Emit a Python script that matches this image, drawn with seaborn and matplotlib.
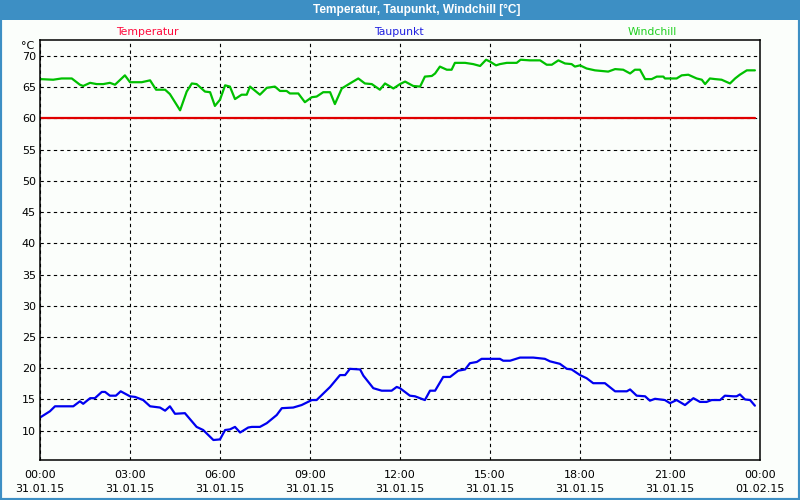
import pandas as pd
import seaborn as sns
import matplotlib.pyplot as plt
from matplotlib.patches import Rectangle

# hours after 31.01.15 00:00
temp_hours = [0, 23.83]
temp_vals = [60, 60]

dew_hours = [0, 0.33, 0.5, 1.11, 1.33, 1.44, 1.67, 1.83, 2.06, 2.17, 2.33, 2.53, 2.69, 3.0,
             3.17, 3.44, 3.67, 4.0, 4.17, 4.33, 4.5, 4.83, 5.22, 5.44, 5.78, 6.0, 6.17, 6.33,
             6.5, 6.67, 6.94, 7.06, 7.33, 7.56, 7.89, 8.06, 8.44, 8.72, 9.06, 9.22, 9.67, 10.0,
             10.17, 10.33, 10.67, 10.78, 11.11, 11.39, 11.72, 11.89, 12.0, 12.33, 12.5, 12.83,
             13.0, 13.17, 13.44, 13.67, 13.94, 14.17, 14.33, 14.56, 14.72, 15.33, 15.44, 15.67,
             16.0, 16.44, 16.83, 17.0, 17.33, 17.56, 17.72, 18.0, 18.22, 18.44, 18.83, 19.17,
             19.56, 19.67, 19.89, 20.17, 20.33, 20.5, 20.83, 21.0, 21.22, 21.5, 21.78, 22.0,
             22.22, 22.39, 22.67, 22.83, 23.11, 23.22, 23.33, 23.5, 23.67, 23.83]
dew_vals = [12.1, 13.1, 13.9, 13.9, 14.7, 14.3, 15.2, 15.2, 16.2, 16.2, 15.6, 15.6, 16.3, 15.5,
            15.4, 14.9, 13.9, 13.7, 13.2, 13.9, 12.7, 12.8, 10.6, 10.1, 8.5, 8.6, 10.1, 10.2,
            10.6, 9.7, 10.5, 10.6, 10.6, 11.2, 12.5, 13.6, 13.7, 14.1, 14.9, 14.9, 17.0, 18.9,
            18.9, 19.9, 19.8, 18.8, 16.8, 16.4, 16.4, 17.0, 16.8, 15.6, 15.5, 14.9,
            16.4, 16.4, 18.6, 18.6, 19.6, 19.8, 20.8, 21.0, 21.5, 21.5, 21.2, 21.2,
            21.7, 21.7, 21.5, 21.1, 20.7, 19.9, 19.8, 18.9, 18.4, 17.6, 17.6, 16.3,
            16.3, 16.6, 15.6, 15.5, 14.8, 15.1, 14.9, 14.4, 14.9, 14.1, 15.2, 14.6,
            14.6, 14.9, 14.9, 15.6, 15.5, 15.5, 15.8, 15.0, 14.9, 14.0]

chill_hours = [0, 0.44, 0.72, 1.06, 1.33, 1.44, 1.67, 1.89, 2.11, 2.33, 2.5, 2.83, 3.0, 3.39,
               3.67, 3.87, 4.17, 4.33, 4.67, 4.89, 5.06, 5.22, 5.5, 5.67, 5.83, 6.0, 6.17, 6.33,
               6.5, 6.72, 6.89, 7.0, 7.33, 7.56, 7.83, 8.0, 8.22, 8.33, 8.61, 8.83, 9.06, 9.22,
               9.44, 9.67, 9.83, 10.06, 10.33, 10.61, 10.83, 11.06, 11.33, 11.5, 11.78, 12.0,
               12.17, 12.44, 12.67, 12.83, 13.06, 13.17, 13.33, 13.56, 13.72, 13.83, 14.17, 14.44,
               14.67, 14.87, 15.0, 15.2, 15.33, 15.56, 15.89, 16.02, 16.33, 16.67, 16.89, 17.06,
               17.28, 17.5, 17.72, 17.83, 18.0, 18.22, 18.5, 18.94, 19.17, 19.44, 19.67, 19.83,
               20.0, 20.17, 20.39, 20.56, 20.78, 20.83, 21.22, 21.39, 21.61, 21.89, 22.06, 22.17,
               22.33, 22.5, 22.72, 23.0, 23.17, 23.33, 23.56, 23.83]
chill_vals = [66.3, 66.2, 66.4, 66.4, 65.4, 65.2, 65.7, 65.5, 65.5, 65.7, 65.4, 66.9, 65.8, 65.8,
              66.1, 64.6, 64.6, 63.9, 61.3, 64.3, 65.6, 65.5, 64.3, 64.2, 62.0, 63.0, 65.3, 65.1,
              63.1, 63.8, 63.8, 65.1, 63.8, 64.9, 65.1, 64.4, 64.4, 64.0, 64.0, 62.6, 63.4, 63.5,
              64.2, 64.2, 62.3, 64.8, 65.6, 66.4, 65.6, 65.5, 64.6, 65.6, 64.8, 65.5,
              65.9, 65.2, 65.1, 66.7, 66.8, 67.2, 68.3, 67.8, 67.8, 68.9, 68.9, 68.7,
              68.4, 69.4, 69.1, 68.5, 68.7, 68.9, 68.9, 69.4, 69.3, 69.3, 68.6, 68.6,
              69.3, 68.8, 68.7, 68.3, 68.5, 68.0, 67.7, 67.5, 67.9, 67.8, 67.2, 67.8,
              67.8, 66.3, 66.3, 66.7, 66.7, 66.4, 66.4, 66.9, 67.0, 66.4, 66.2, 65.5,
              66.4, 66.3, 66.2, 65.6, 66.4, 67.0, 67.7, 67.7]

tick_hours = [0, 3, 6, 9, 12, 15, 18, 21, 24]
tick_labels = ['00:00\n31.01.15', '03:00\n31.01.15', '06:00\n31.01.15', '09:00\n31.01.15',
               '12:00\n31.01.15', '15:00\n31.01.15', '18:00\n31.01.15', '21:00\n31.01.15',
               '00:00\n01.02.15']
y_ticks = [10, 15, 20, 25, 30, 35, 40, 45, 50, 55, 60, 65, 70]

temp = pd.DataFrame({'hour': temp_hours, 'val': temp_vals})
dew = pd.DataFrame({'hour': dew_hours, 'val': dew_vals})
chill = pd.DataFrame({'hour': chill_hours, 'val': chill_vals})

sns.set_style('white')
plt.rcParams['font.family'] = ['DejaVu Sans']
plt.rcParams['text.color'] = 'black'
plt.rcParams['xtick.color'] = 'black'
plt.rcParams['ytick.color'] = 'black'

bg = '#fbfefb'
fig = plt.figure(figsize=(8, 5), dpi=100, facecolor=bg)
ax = fig.add_axes([0.05, 0.08, 0.90, 0.84])
ax.set_facecolor(bg)

# lines
sns.lineplot(data=temp, x='hour', y='val', color='#e00000', lw=1.6, ax=ax)
sns.lineplot(data=dew, x='hour', y='val', color='#0000f0', lw=1.6, ax=ax)
sns.lineplot(data=chill, x='hour', y='val', color='#00c000', lw=1.6, ax=ax)

ax.set_xlim(0, 24)
ax.set_ylim(5.3, 72.56)
ax.set_xticks(tick_hours)
ax.set_xticklabels(tick_labels, fontsize=8, linespacing=1.5)
ax.set_xticks(range(25), minor=True)
ax.set_yticks(y_ticks)
ax.set_yticklabels([str(v) for v in y_ticks], fontsize=8)
ax.set(xlabel='', ylabel='')
ax.tick_params(axis='x', which='both', direction='out', length=3, width=1, color='black', pad=4)
ax.tick_params(axis='y', length=0, pad=3)
ax.grid(True, color='black', linestyle=(0, (3, 3)), lw=0.8)
for s in ax.spines.values():
    s.set_color('black')
    s.set_linewidth(1.1)

# unit label sits just inside the top of the axes
fig.text(34 / 800, 1 - 46 / 500, '°C', ha='right', va='center', fontsize=8)

# header bar and legend labels
fig.patches.append(Rectangle((0, 0.96), 1, 0.04, transform=fig.transFigure,
                             facecolor='#3d8fc4', edgecolor='none', zorder=0))
fig.patches.append(Rectangle((0, 0), 1, 1, transform=fig.transFigure,
                             facecolor='none', edgecolor='#3d8fc4', lw=3, zorder=0))
fig.text(417 / 800, 1 - 10 / 500, 'Temperatur, Taupunkt, Windchill [°C]', color='white',
         fontsize=8.6, fontweight='bold', ha='center', va='center',
         family=['Liberation Sans', 'DejaVu Sans'])
fig.text(147 / 800, 1 - 32 / 500, 'Temperatur', color='#ff0a3c', fontsize=7.8, ha='center', va='center')
fig.text(399 / 800, 1 - 32 / 500, 'Taupunkt', color='#2020e0', fontsize=7.8, ha='center', va='center')
fig.text(652 / 800, 1 - 32 / 500, 'Windchill', color='#20d020', fontsize=7.8, ha='center', va='center')

fig.savefig('out.png', dpi=100, facecolor=bg)
